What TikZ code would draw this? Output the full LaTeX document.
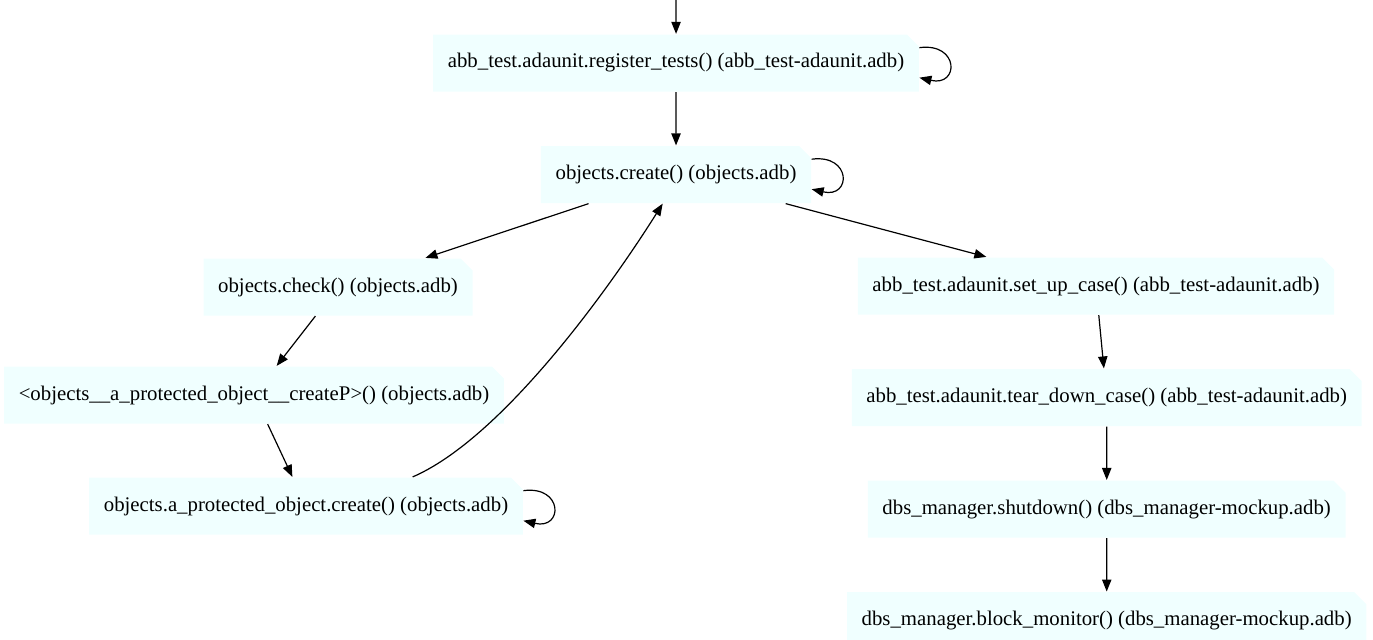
\documentclass[tikz,border=0pt]{standalone}
\usepackage{fontspec}
\setmainfont{Liberation Serif}
\usetikzlibrary{positioning}
\usetikzlibrary{shapes.misc}
\usetikzlibrary{arrows.meta}
\definecolor{notefill}{HTML}{F0FFFF}

\begin{document}
\begin{tikzpicture}[%
    x=0.75pt, y=-0.75pt,
    node distance=40pt,
    font=\fontsize{15.6}{17}\selectfont,
    >={Triangle[length=9pt,width=7pt]},
    every path/.style={line width=0.9pt},
fnode/.style={chamfered rectangle, chamfered rectangle corners=north east, chamfered rectangle xsep=4.5pt, chamfered rectangle ysep=4.5pt, fill=notefill, inner xsep=6.5pt, minimum height=42.75pt},
loop/.style={->}
]
\useasboundingbox (0,0) rectangle (1373,639);

% entry
\coordinate (entry) at (676,0);

% main chain
\node[fnode] (register) at (676,63) {abb\_test.adaunit.register\_tests() (abb\_test-adaunit.adb)};
\node[fnode] (create) [below=40pt of register] {objects.create() (objects.adb)};

% left branch
\node[fnode] (check) at (338,287) {objects.check() (objects.adb)};
\node[fnode] (createp) at (254,395) {<objects\_\_a\_protected\_object\_\_createP>() (objects.adb)};
\node[fnode] (pcreate) at (306,506) {objects.a\_protected\_object.create() (objects.adb)};

% right branch
\node[fnode] (setup) at (1096,286) {abb\_test.adaunit.set\_up\_case() (abb\_test-adaunit.adb)};
\node[fnode] (teardown) [below=of setup, xshift=8pt] {abb\_test.adaunit.tear\_down\_case() (abb\_test-adaunit.adb)};
\node[fnode] (shutdown) [below=of teardown] {dbs\_manager.shutdown() (dbs\_manager-mockup.adb)};
\node[fnode] (blockmon) [below=of shutdown] {dbs\_manager.block\_monitor() (dbs\_manager-mockup.adb)};

% lines
\draw[->] (entry) -- (register);
\draw[->] (register) -- (create);
\draw[->] (create) -- (check);
\draw[->] (create) -- (setup);
\draw[->] (check) -- (createp);
\draw[->] (createp) -- (pcreate);
\draw[->] ([xshift=80pt]pcreate.north) .. controls +(88,-38) and +(-56,89) .. ([xshift=-10pt]create.south);
\draw[->] (setup) -- (teardown);
\draw[->] (teardown) -- (shutdown);
\draw[->] (shutdown) -- (blockmon);

% self loops
\draw[loop] ([yshift=11.5pt]register.east) .. controls +(30pt,4pt) and +(30pt,-7pt) .. ([yshift=-11pt]register.east);
\draw[loop] ([yshift=11.5pt]create.east) .. controls +(30pt,4pt) and +(30pt,-7pt) .. ([yshift=-11pt]create.east);
\draw[loop] ([yshift=11.5pt]pcreate.east) .. controls +(30pt,4pt) and +(30pt,-7pt) .. ([yshift=-11pt]pcreate.east);

\end{tikzpicture}
\end{document}
